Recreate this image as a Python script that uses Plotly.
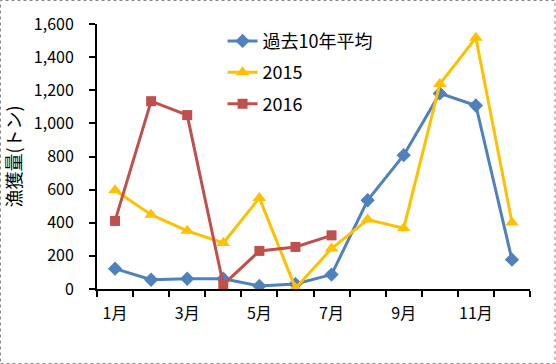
import plotly.graph_objects as go

months = ["1月", "2月", "3月", "4月", "5月", "6月", "7月", "8月", "9月", "10月", "11月", "12月"]
month_labels = ["1月", "", "3月", "", "5月", "", "7月", "", "9月", "", "11月", ""]
avg10 = [123, 56, 62, 62, 18, 30, 87, 536, 808, 1181, 1108, 177]
y2015 = [596, 449, 351, 278, 550, 5, 244, 419, 367, 1237, 1517, 401]
y2016 = [411, 1134, 1050, 26, 230, 254, 324]

FONT = "Noto Sans CJK JP"

fig = go.Figure()
fig.add_trace(go.Scatter(x=months, y=avg10, name="過去10年平均", mode="lines+markers",
                         legendgroup="a",
                         line=dict(color="#4F81BD", width=3),
                         marker=dict(symbol="diamond", size=11, color="#4F81BD")))
fig.add_trace(go.Scatter(x=months, y=y2015, name="2015", mode="lines+markers",
                         legendgroup="b",
                         line=dict(color="#FFC000", width=3),
                         marker=dict(symbol="triangle-up", size=12, color="#FFC000")))
fig.add_trace(go.Scatter(x=months[:len(y2016)], y=y2016, name="2016", mode="lines+markers",
                         legendgroup="c",
                         line=dict(color="#C0504D", width=3),
                         marker=dict(symbol="square", size=10, color="#C0504D")))

fig.update_layout(
    width=556, height=364,
    margin=dict(l=97, r=26, t=24, b=75),
    paper_bgcolor="white", plot_bgcolor="white",
    font=dict(family=FONT, size=16, color="black"),
    showlegend=True,
    legend=dict(x=0.29, y=1.005, xanchor="left", yanchor="top",
                font=dict(family=FONT, size=18, color="black"),
                tracegroupgap=5, bgcolor="rgba(0,0,0,0)", itemwidth=30),
    xaxis=dict(type="category", categoryorder="array", categoryarray=months,
               range=[-0.5, len(months) - 0.5],
               tickmode="array", tickvals=months, ticktext=month_labels,
               tickson="boundaries", ticks="outside", ticklen=6, tickwidth=2,
               tickcolor="black", showline=True, linecolor="black", linewidth=2,
               showgrid=False, zeroline=False, ticklabelstandoff=9, tickangle=0,
               automargin=False,
               tickfont=dict(family=FONT, size=16)),
    yaxis=dict(range=[0, 1600], dtick=200, tickformat=",", ticks="outside",
               ticklen=6, tickwidth=2, tickcolor="black", showline=True,
               linecolor="black", linewidth=2, showgrid=False, zeroline=False,
               ticklabelstandoff=12, automargin=False,
               title=dict(text="漁獲量(トン)", standoff=8,
                          font=dict(family=FONT, size=18)),
               tickfont=dict(family=FONT, size=16)),
)
fig.add_shape(type="rect", xref="paper", yref="paper",
              x0=-96.5/433, x1=1+25/433, y0=-74.5/265, y1=1+23.5/265,
              line=dict(color="#888888", width=1, dash="dot"))
fig.write_html("out.html", config={"displayModeBar": False},
               post_script="document.body.style.margin='0';document.body.style.overflow='hidden';")
